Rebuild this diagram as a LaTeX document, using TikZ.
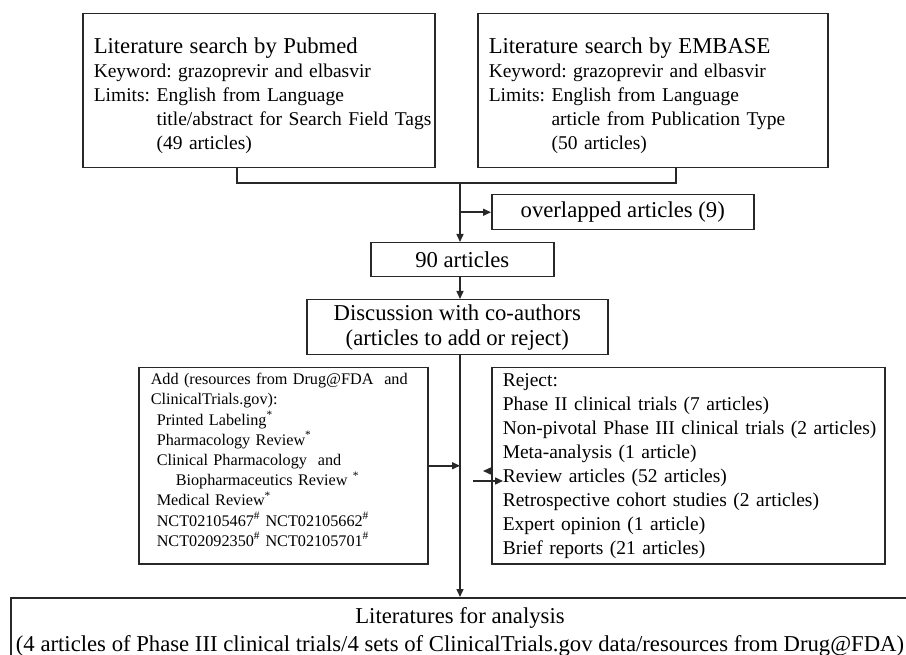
\documentclass[tikz,border=0pt]{standalone}
\usepackage{fontspec}
\setmainfont{Liberation Serif}
\usepackage{tikz}
\usetikzlibrary{arrows.meta, positioning}
\definecolor{framegray}{RGB}{40, 40, 40}
\newcommand{\bigtxt}{\fontsize{22.7}{25}\selectfont}
\newcommand{\midtxt}{\fontsize{19.5}{24}\selectfont}
\newcommand{\smalltxt}{\fontsize{16.2}{20.2}\selectfont}
\newcommand{\limind}{\hphantom{Limits: }}
\frenchspacing

\begin{document}
\begin{tikzpicture}[x=1pt, y=-1pt,
    box/.style={draw=framegray, line width=1.5pt, inner ysep=0pt, anchor=north west},
    arr/.style={draw=framegray, line width=1.5pt, -{Triangle[length=8pt, width=7pt]}},
    lin/.style={draw=framegray, line width=1.5pt}]
    \useasboundingbox (0,0) rectangle (906,655);
    % search boxes
    \node[box, inner xsep=11pt, text width=330pt, minimum height=154pt, align=left, font=\midtxt] (pubmed) at (82,13)
        {\rule{0pt}{25pt}{\bigtxt Literature search by Pubmed}\\ Keyword: grazoprevir and elbasvir\\ Limits: English from Language\\
         \limind\mbox{title/abstract for Search Field Tags}\\ \limind(49 articles)};
    \node[box, inner xsep=11pt, text width=328pt, minimum height=154pt, align=left, font=\midtxt] (embase) at (477,13)
        {\rule{0pt}{25pt}{\bigtxt Literature search by EMBASE}\\ Keyword: grazoprevir and elbasvir\\ Limits: English from Language\\
         \limind\mbox{article from Publication Type}\\ \limind(50 articles)};
    \node[box, minimum width=262pt, minimum height=35pt, font=\bigtxt] (overlap) at (491,194) {overlapped articles (9)};
    \node[box, minimum width=183pt, minimum height=34pt, font=\bigtxt] (total) at (370,242) {90 articles};
    \node[box, minimum width=301pt, minimum height=55pt, align=center, font=\bigtxt] (discuss) at (306,299)
        {Discussion with co-authors\\ (articles to add or reject)};
    % add / reject
    \node[box, inner xsep=12pt, text width=265pt, minimum height=196pt, align=left, font=\smalltxt] (addbox) at (138,367)
        {\mbox{Add (resources from Drug@FDA\ \ and}\\ ClinicalTrials.gov):\\
         \hspace*{6pt}Printed Labeling\textsuperscript{*}\\
         \hspace*{6pt}Pharmacology Review\textsuperscript{*}\\
         \hspace*{6pt}Clinical Pharmacology\ \ and\\
         \hspace*{25pt}Biopharmaceutics Review \textsuperscript{*}\\
         \hspace*{6pt}Medical Review\textsuperscript{*}\\
         \hspace*{6pt}NCT02105467\textsuperscript{\#} NCT02105662\textsuperscript{\#}\\
         \hspace*{6pt}NCT02092350\textsuperscript{\#} NCT02105701\textsuperscript{\#}\rule[-12pt]{0pt}{0pt}};
    \node[box, inner xsep=11pt, text width=371pt, minimum height=196pt, align=left, font=\midtxt] (rejectbox) at (491,367)
        {Reject:\\ Phase II clinical trials (7 articles)\\ \mbox{Non-pivotal Phase III clinical trials (2 articles)}\\
         Meta-analysis (1 article)\\ Review articles (52 articles)\\ Retrospective cohort studies (2 articles)\\
         Expert opinion (1 article)\\ Brief reports (21 articles)};
    \node[box, anchor=north, minimum width=898pt, minimum height=68pt, align=center, font=\fontsize{22.7}{28}\selectfont] (final) at (460,597)
        {Literatures for analysis\\ (4 articles of Phase III clinical trials/4 sets of ClinicalTrials.gov data/resources from Drug@FDA)};
    % connectors
    \coordinate (jl) at (237,183);
    \coordinate (jr) at (676,183);
    \coordinate (jm) at (460,183);
    \draw[lin] (pubmed.south -| jl) -- (jl) -- (jr) -- (embase.south -| jr);
    \draw[arr] (jm) -- (jm |- total.north);
    \draw[arr] (jm |- overlap.west) -- (overlap.west);
    \draw[arr] (jm |- total.south) -- (jm |- discuss.north);
    \draw[arr] (jm |- discuss.south) -- (jm |- final.north);
    \draw[arr] (addbox.east) -- (addbox.east -| jm);
    \coordinate (rtail) at (473,481);
    \draw[arr] (rtail) -- ++(30,0);
    \draw[arr] (rejectbox.west |- 0,471) -- ++(-8,0);
\end{tikzpicture}
\end{document}
